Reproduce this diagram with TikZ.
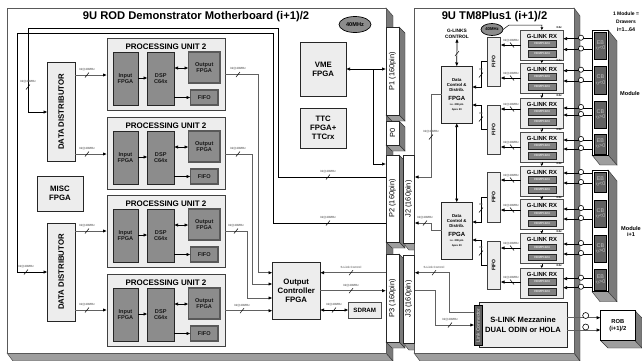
\documentclass[tikz,border=0pt]{standalone}
\usepackage{fontspec}
\setmainfont{Liberation Sans}
\usetikzlibrary{arrows.meta,calc}
\newcount\labc
\newcommand{\fs}[1]{\pgfmathparse{#1*1.15}\fontsize{#1}{\pgfmathresult}\selectfont}
\newcommand{\bx}[7]{\node[#6,anchor=north west,inner sep=0pt,outer sep=0pt,align=center,minimum width={((#4)-(#2))*1pt},minimum height={((#5)-(#3))*1pt}] (#1) at (#2,#3) {#7};}
% slash mark and tiny bus label
\newcommand{\busm}[3]{\draw[black,line width=.5pt] (#1-2,#2+2.5) -- (#1+2,#2-2.5);
  \global\advance\labc by 1
  \node[tiny lab] (lab\the\labc) at (#1,#2-5.5) {#3};}
\tikzset{
  >={Latex[length=4pt,width=3.4pt,black]},
  tiny lab/.style={inner sep=0pt,font=\fs{3}\bfseries,text=black!55},
  busg/.style={draw=black!62,line width=1pt},
  busk/.style={draw=black,line width=.7pt},
  light/.style={draw=black!85,line width=.7pt,fill=black!7,font=\fs{7.8}\bfseries},
  unitbox/.style={draw=black!75,line width=.7pt,fill=black!7},
  chip/.style={draw=black!85,line width=.7pt,fill=black!45,font=\fs{5.6}\bfseries,text=black!90},
  chipg/.style={draw=black!65,line width=1.1pt,fill=black!45,font=\fs{5.6}\bfseries,text=black!90},
  conn/.style={draw=black!85,line width=.6pt,fill=white,font=\fs{7.4}},
  glbox/.style={draw=black!70,line width=.9pt,fill=black!7},
  hd/.style={draw=black!85,line width=.6pt,fill=black!50,font=\fs{3}\bfseries,text=black!10},
  fifo/.style={draw=black!75,line width=.7pt,fill=black!7,font=\fs{5}\bfseries},
  drawer/.style={draw=black,line width=.5pt,fill=black!62,font=\fs{5.4},text=black!25},
  sideface/.style={fill=black!52,draw=black!80,line width=.4pt},
  botface/.style={fill=black!38,draw=black!80,line width=.4pt}
}
\begin{document}
\begin{tikzpicture}[x=1pt,y=-1pt]
\clip (0,0) rectangle (642,360);
\fill[white] (0,0) rectangle (642,360);
% ---- ROD board
\fill[botface] (7,353) -- (13,361) -- (393,361) -- (386,353) -- cycle;
\fill[sideface] (386,8) -- (393,16) -- (393,361) -- (386,353) -- cycle;
\bx{rod}{7}{8}{386}{353}{draw=black!65,line width=.9pt,fill=white}{}
% ---- TM board
\fill[botface] (414,353) -- (420,361) -- (580,361) -- (574,353) -- cycle;
\fill[sideface] (574,8) -- (580,16) -- (580,361) -- (574,353) -- cycle;
% J connectors (behind TM board edge)
\foreach \n/\a/\b in {j2/155/243,j3/255/343}{
  \fill[botface] (403,\b) -- (409,\b+7) -- (416,\b+7) -- (416,\b) -- cycle;
}
\bx{tm}{414}{8}{574}{353}{draw=black!65,line width=.9pt,fill=white}{}
\node[font=\fs{11.2}\bfseries,inner sep=0pt] (rodtitle) at (196,17) {9U ROD Demonstrator Motherboard (i+1)/2};
\node[font=\fs{11.2}\bfseries,inner sep=0pt] (tmtitle) at (494.5,17) {9U TM8Plus1 (i+1)/2};
% connectors
\foreach \n/\a/\b/\t in {p1/27/115/P1 (160pin),p0/121/145/P0,p2/155/242/P2 (160pin),p3/254/342/P3 (160pin)}{
  \fill[sideface] (399,\a) -- (405,\a+6) -- (405,\b+6) -- (399,\b) -- cycle;
  \fill[botface] (386,\b) -- (392,\b+6) -- (405,\b+6) -- (399,\b) -- cycle;
  \bx{\n}{386}{\a}{399}{\b}{conn}{\rotatebox{90}{\t}}
}
\foreach \n/\a/\b/\t in {j2/155/243/J2 (160pin),j3/255/343/J3 (160pin)}{
  \bx{\n}{403}{\a}{414.5}{\b}{conn}{\rotatebox{90}{\t}}
}
% ---- processing units
\foreach \i/\t in {1/38,2/117,3/195,4/274}{
  \bx{pu\i}{107}{\t}{225}{\t+72.5}{unitbox}{}
  \node[font=\fs{8}\bfseries,inner sep=0pt] (pt\i) at (166,\t+8.5) {PROCESSING UNIT 2};
  \bx{inp\i}{113}{\t+14}{138}{\t+67}{chip}{Input\\FPGA}
  \bx{dsp\i}{147.5}{\t+14}{174}{\t+67}{chip}{DSP\\C64x}
  \bx{out\i}{188.5}{\t+14}{220}{\t+45}{chipg}{Output\\FPGA}
  \bx{ff\i}{190.5}{\t+52}{218}{\t+67}{chipg}{FIFO}
  \draw[busk,->] (inp\i.east |- 0,\t+40) -- (dsp\i.west |- 0,\t+40);
  \draw[busk,<->] (dsp\i.east |- 0,\t+30) -- (out\i.west |- 0,\t+30);
  \draw[busk,->] (dsp\i.east |- 0,\t+59.5) -- (ff\i.west |- 0,\t+59.5);
}
% ---- left column
\bx{dd1}{47.5}{62.5}{75}{161}{light}{\rotatebox{90}{DATA DISTRIBUTOR}}
\bx{dd2}{47.5}{223}{75}{321}{light}{\rotatebox{90}{DATA DISTRIBUTOR}}
\bx{misc}{37}{176}{83}{211}{light}{MISC\\FPGA}
\foreach \d/\i/\y in {dd1/1/75,dd1/2/154,dd2/3/231,dd2/4/310}{
  \draw[busg,->] (\d.east |- 0,\y) -- (pu\i.west |- 0,\y);
  \busm{87}{\y}{32@40MHz}
}
% ---- middle column
\bx{vme}{300.5}{42}{346}{96.5}{light}{VME\\FPGA}
\bx{ttc}{300.5}{108}{346}{148}{light}{TTC\\FPGA+\\TTCrx}
\bx{oc}{272.5}{262.5}{320}{319}{light}{Output\\Controller\\FPGA}
\bx{sdram}{348.5}{302}{381}{318}{draw=black!70,line width=.9pt,fill=black!7,font=\fs{6.2}\bfseries}{SDRAM}
\draw[fill=black!45,draw=black,line width=.7pt] (355,24.5) ellipse [x radius=16,y radius=8];
\node[font=\fs{5.6}\bfseries,inner sep=0pt] (clka) at (355,24.5) {40MHz};
\draw[busk,<->] (vme.east |- 0,69) -- (p1.west |- 0,69);
\draw[busk,->] (373.5,69) -- (373.5,164) -- (p2.west |- 0,164);
% data paths to P2
\draw[busk,->] (p2.west |- 0,177) -- (278,177) -- (278,28) -- (28,28) -- (28,112) -- (dd1.west |- 0,112);
\busm{28}{87}{32@40MHz}
\busm{328}{177}{32@40MHz}
\draw[busk,->] (p2.west |- 0,223) -- (273,223) -- (273,33) -- (17,33) -- (17,272) -- (dd2.west |- 0,272);
\busm{26}{272}{32@40MHz}
\busm{328}{223}{32@40MHz}
% PU to output controller
\draw[busg,->] (pu1.east |- 0,74.5) -- (258,74.5) -- (258,272.7) -- (oc.west |- 0,272.7);
\busm{238}{74.5}{32@40MHz}
\draw[busg,->] (pu2.east |- 0,154) -- (252,154) -- (252,284) -- (oc.west |- 0,284);
\busm{238}{154}{32@40MHz}
\draw[busg,->] (pu3.east |- 0,231) -- (247,231) -- (247,298) -- (oc.west |- 0,298);
\busm{236}{231}{32@40MHz}
\draw[busg,->] (pu4.east |- 0,310.7) -- (oc.west |- 0,310.7);
\busm{242}{310.7}{32@40MHz}
\draw[busg,->] (p3.west |- 0,272.7) -- (oc.east |- 0,272.7);
\busm{351}{272.7}{S-Link Control}
\draw[busg,->] (oc.east |- 0,290.7) -- (p3.west |- 0,290.7);
\busm{351}{290.7}{32@40MHz}
\draw[busk,<->] (oc.east |- 0,310) -- (sdram.west |- 0,310);
\busm{334}{310}{32@40MHz}
% ---- TM8Plus1: G-link receivers and drawers
\foreach \i/\t in {1/30,2/63,3/98,4/132,5/166,6/199.5,7/233.5,8/268}{
  \bx{gl\i}{520.5}{\t}{563}{\t+30}{glbox}{}
  \node[font=\fs{5.9}\bfseries,inner sep=0pt] (glt\i) at (542,\t+6) {G-LINK RX};
  \bx{hda\i}{528}{\t+10.5}{556}{\t+17}{hd}{HDMP1024}
  \bx{hdb\i}{528}{\t+20.5}{556}{\t+27}{hd}{HDMP1024}
  \node[inner sep=0pt,font=\fs{2.8}\bfseries] (vv\i) at (559,\t-2.2) {3.3v};
}
\foreach \a/\b in {1/2,2/3,3/4,4/5,5/6,6/7,7/8}{
  \draw[black,line width=.5pt,-{Latex[length=2.4pt,width=3pt,black]}] (gl\a.south) -- (gl\b.north);
}
% modules
\foreach \m/\a/\b in {mod1/30/155,mod2/170/291.7}{
  \fill[sideface] (608,\a) -- (617,\a+11) -- (617,\b+10) -- (608,\b) -- cycle;
  \fill[botface] (592,\b) -- (600,\b+10) -- (617,\b+10) -- (608,\b) -- cycle;
  \bx{\m}{592}{\a}{608}{\b}{draw=black,line width=.6pt,fill=white}{}
}
\bx{d1}{594}{32}{606.7}{59}{drawer}{EB\\[-1pt]$\eta$<0}
\bx{d2}{594}{66}{606.7}{94}{drawer}{CB\\[-1pt]$\eta$<0}
\bx{d3}{594}{101}{606.7}{128}{drawer}{CB\\[-1pt]$\eta$>0}
\bx{d4}{594}{134}{606.7}{154}{drawer}{EB\\[-1pt]$\eta$>0}
\bx{d5}{594}{172}{606.7}{192}{drawer}{EB\\[-1pt]$\eta$<0}
\bx{d6}{594}{200}{606.7}{227}{drawer}{CB\\[-1pt]$\eta$<0}
\bx{d7}{594}{235}{606.7}{262}{drawer}{CB\\[-1pt]$\eta$>0}
\bx{d8}{594}{269}{606.7}{290}{drawer}{EB\\[-1pt]$\eta$>0}
\foreach \i/\m/\ya/\yb in {1/mod1/38.7/49.5,2/mod1/70.7/81,3/mod1/108/115,4/mod1/140/149,5/mod2/173/183,6/mod2/209/219,7/mod2/244/254,8/mod2/278.7/287.7}{
  \draw[busk,->] (\m.west |- 0,\ya) -- (gl\i.east |- 0,\ya);
  \draw[busk,->] (\m.west |- 0,\yb) -- (gl\i.east |- 0,\yb);
  \draw[black,fill=white,line width=.6pt] (581,\ya-1) circle (2.6);
  \draw[black,fill=white,line width=.6pt] (581,\yb-1) circle (2.6);
}
% FIFOs and data control
\bx{fa}{487}{37}{500.5}{86}{fifo}{\rotatebox{90}{FIFO}}
\bx{fb}{487}{105}{500.5}{154}{fifo}{\rotatebox{90}{FIFO}}
\bx{fc}{487}{172}{500.5}{222}{fifo}{\rotatebox{90}{FIFO}}
\bx{fd}{487}{241}{500.5}{289}{fifo}{\rotatebox{90}{FIFO}}
\foreach \f/\g/\y in {fa/gl1/45,fa/gl2/78,fb/gl3/109,fb/gl4/147,fc/gl5/180,fc/gl6/210,fd/gl7/248,fd/gl8/282}{
  \draw[busk,->] (\g.west |- 0,\y) -- (\f.east |- 0,\y);
  \draw[black,line width=.5pt] (510,\y-2.5) -- (514,\y+2.5);
  \global\advance\labc by 1
  \node[tiny lab] (lab\the\labc) at (511,\y-4.5) {32@40MHz};
}
\bx{dca}{441.5}{66.5}{472}{123}{light,font=\fs{4.3}\bfseries}{Data\\Control \&\\Distrib.\\[3.5pt]{\fs{6}\bfseries FPGA}\\[.5pt]{\fs{2.6}\bfseries i.e. 208 pin}\\[-.5pt]{\fs{2.6}\bfseries Apex 20}}
\bx{dcb}{441.5}{202.5}{472}{259}{light,font=\fs{4.3}\bfseries}{Data\\Control \&\\Distrib.\\[3.5pt]{\fs{6}\bfseries FPGA}\\[.5pt]{\fs{2.6}\bfseries i.e. 208 pin}\\[-.5pt]{\fs{2.6}\bfseries Apex 20}}
\draw[busk,->] (fa.west |- 0,61.7) -- (481,61.7) -- (481,87) -- (dca.east |- 0,87);
\draw[busk,->] (fb.west |- 0,129) -- (481,129) -- (481,105) -- (dca.east |- 0,105);
\draw[busk,->] (fc.west |- 0,197) -- (481,197) -- (481,222) -- (dcb.east |- 0,222);
\draw[busk,->] (fd.west |- 0,265) -- (481,265) -- (481,240) -- (dcb.east |- 0,240);
\busm{481}{75}{8x}
\busm{481}{119}{8x}
\busm{481}{210}{8x}
\busm{481}{253}{8x}
\node[font=\fs{4.8}\bfseries,inner sep=0pt,align=center] (glc) at (457,34) {G-LINKS\\CONTROL};
\draw[busk,<->] (glc.south) -- (dca.north);
\draw[black,line width=.5pt] (455,56) -- (459,51);
\draw[busk,<->] (dca.south) -- (dcb.north);
% ellipse clock
\draw[fill=black!45,draw=black,line width=.7pt] (492,29.5) ellipse [x radius=11,y radius=6];
\node[font=\fs{4.2}\bfseries,inner sep=0pt] (clkb) at (492,29.5) {40MHz};
\draw[black,line width=.5pt,-{Latex[length=2.6pt,width=3pt,black]}] (503,29.5) -- (509,25) -- (542,25) -- (gl1.north);
% links to J2/J3
\draw[busg,->] (dca.west |- 0,94) -- (431,94) -- (431,177) -- (j2.east |- 0,177);
\busm{431}{137}{32@40MHz}
\draw[busg,->] (dcb.west |- 0,230) -- (431,230) -- (431,223) -- (j2.east |- 0,223);
\busm{425}{223}{32@40MHz}
% S-link
\bx{slink}{479}{302}{567}{347.7}{draw=black!85,line width=.7pt,fill=black!7,font=\fs{7.6}\bfseries}{S-LINK Mezzanine\\[1pt]DUAL ODIN or HOLA}
\bx{lc}{474.3}{305.7}{482}{345}{draw=black,line width=.6pt,fill=black!62,font=\fs{5},text=black!15}{\rotatebox{90}{Link Connector}}
\draw[busg,->] (lc.west |- 0,312) -- (449,312) -- (449,272.7) -- (j3.east |- 0,272.7);
\busm{434}{272.7}{S-Link Control}
\draw[busg,->] (j3.east |- 0,290.7) -- (435.7,290.7) -- (435.7,325) -- (lc.west |- 0,325);
\busm{450}{325}{32@40MHz}
% ROB
\fill[sideface] (635,310.7) -- (642,318) -- (642,348) -- (635,340.7) -- cycle;
\fill[botface] (600.7,340.7) -- (608,348) -- (642,348) -- (635,340.7) -- cycle;
\bx{rob}{600.7}{310.7}{635}{340.7}{draw=black,line width=.8pt,fill=white,font=\fs{5.8}\bfseries}{ROB\\(i+1)/2}
\draw[busg,->] (slink.east |- 0,317.7) -- (rob.west |- 0,317.7);
\draw[busg,->] (slink.east |- 0,330) -- (rob.west |- 0,330);
\draw[black,fill=white,line width=.6pt] (585.7,315.5) circle (3);
\draw[black,fill=white,line width=.6pt] (585.7,327) circle (3);
% free text
\node[font=\fs{5}\bfseries,inner sep=0pt,align=center] (modhdr) at (626,21.5) {1 Module =\\[3pt]Drawers\\[2pt]{\fs{5.4}\bfseries i=1...64}};
\node[font=\fs{5.6}\bfseries,inner sep=0pt,anchor=west] (modl1) at (620,93) {Module};
\node[font=\fs{5.6}\bfseries,inner sep=0pt,align=center,anchor=north] (modl2) at (631,226) {Module\\i+1};
\end{tikzpicture}
\end{document}
